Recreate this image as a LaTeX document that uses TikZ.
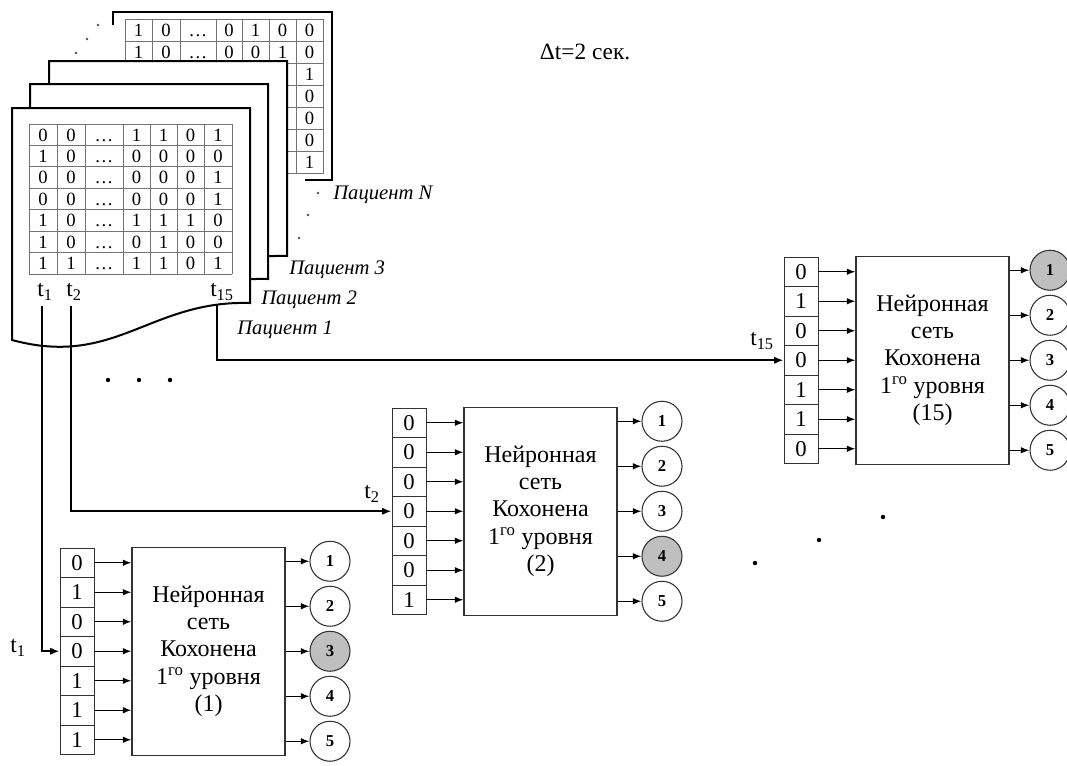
\documentclass[tikz,border=0pt]{standalone}
\usepackage{fontspec}
\setmainfont{Liberation Serif}
\usetikzlibrary{arrows.meta,positioning}
\tikzset{
  sheet/.style={draw, line width=1.5pt, fill=white},
  grid/.style={draw=black!55, line width=0.6pt},
  tabdigit/.style={font=\fontsize{14}{16}\selectfont, inner sep=0pt, text height=9.5pt, text depth=0pt},
  cell/.style={draw=black!80, line width=0.7pt, minimum width=25.5pt, minimum height=22.1pt, inner sep=0pt, font=\fontsize{17}{19}\selectfont},
  netbox/.style={draw=black!80, line width=0.8pt, minimum width=114.75pt, minimum height=156pt, align=center, font=\fontsize{18}{20.5}\selectfont},
  outcirc/.style={draw=black!80, circle, line width=0.8pt, minimum size=30pt, inner sep=0pt, font=\bfseries\fontsize{12.5}{14}\selectfont},
  line/.style={-{Latex[length=6.5pt,width=5pt]}, line width=1.1pt},
  conn/.style={-{Latex[length=7pt,width=5.5pt]}, line width=1.5pt},
  patient/.style={font=\itshape\fontsize{15.5}{17}\selectfont, anchor=west, inner sep=0pt},
  tlabel/.style={font=\fontsize{17.5}{19}\selectfont, inner sep=1pt}
}

\begin{document}
\begin{tikzpicture}[x=0.75pt,y=-0.75pt]
  \useasboundingbox (0,0) rectangle (1067,765);

  % back sheet (patient N) with its table
  \draw[line width=1.5pt] (113,25) -- (113,12) -- (332,12) -- (332,180) -- (305,180);
  \foreach \k in {0,...,7}
    \draw[grid] (125,19+22.1*\k) -- (323,19+22.1*\k);
  \foreach \x in {125,152,180,216,242,269,296,323}
    \draw[grid] (\x,19) -- (\x,173.7);
  \foreach \row [count=\r] in {{1,0,…,0,1,0,0},{1,0,…,0,0,1,0}}
    \foreach \v [count=\c] in \row {
      \pgfmathsetmacro\cx{{138.5,166,198,229,255.5,282.5,309.5}[\c-1]}
      \node[tabdigit] (bn-\r-\c) at (\cx,7.95+22.1*\r) {\v};
    }
  \foreach \v [count=\r from 3] in {1,0,0,0,1}
    \node[tabdigit] (bn-\r-7) at (309.5,7.95+22.1*\r) {\v};

  % sheets 3, 2 and 1
  \foreach \dx/\dy in {37/-47,18/-24,0/0}
    \draw[sheet, shift={(\dx,\dy)}] (12,108) -- (250,108) -- (250,303)
      .. controls (150,300) and (115,368) .. (12,340) -- cycle;

  % table of patient 1
  \foreach \k in {0,...,7}
    \draw[grid] (29,124+21.43*\k) -- (232,124+21.43*\k);
  \foreach \x in {29,57,85,123,150,177,204,232}
    \draw[grid] (\x,124) -- (\x,274);
  \foreach \row [count=\r] in {{0,0,…,1,1,0,1},{1,0,…,0,0,0,0},{0,0,…,0,0,0,1},
      {0,0,…,0,0,0,1},{1,0,…,1,1,1,0},{1,0,…,0,1,0,0},{1,1,…,1,1,0,1}}
    \foreach \v [count=\c] in \row {
      \pgfmathsetmacro\cx{{43,71,104,136.5,163.5,190.5,218}[\c-1]}
      \node[tabdigit] (fn-\r-\c) at (\cx,113.3+21.43*\r) {\v};
    }
  \node[tlabel] (s-t1) at (45,292) {t\textsubscript{1}};
  \node[tlabel] (s-t2) at (74,292) {t\textsubscript{2}};
  \node[tlabel] (s-t15) at (222,292) {t\textsubscript{15}};

  % patient labels
  \node[patient] (pN) at (333,195) {Пациент N};
  \node[patient] (p3) at (289,270) {Пациент 3};
  \node[patient] (p2) at (261,300) {Пациент 2};
  \node[patient] (p1) at (237,330) {Пациент 1};
  \node[font=\fontsize{17.5}{20}\selectfont] (dt) at (585,52) {Δt=2 сек.};

  % ellipses
  \foreach \px/\py in {98/25,87/39,76/53,318/193,308/215,299/238}
    \fill[black!70] (\px,\py) circle (1.3);
  \foreach \px/\py in {108/380,139/380,170/380,883/517,819/540,755/563}
    \fill (\px,\py) circle (2.2);

  % network (1)
  \foreach \b [count=\i] in {0,1,0,0,1,1,1}
    \node[cell] (A-in\i) at (77,533.25+29.5*\i) {\b};
  \node[netbox] (A-box) at (208.5,651.25) {Нейронная\\сеть\\Кохонена\\1\textsuperscript{го} уровня\\(1)};
  \foreach \i in {1,...,7}
    \draw[line] (A-in\i.east) -- (A-in\i.east -| A-box.west);
  \foreach \f [count=\j] in {white,white,black!25,white,white}
    \node[outcirc, fill=\f] (A-out\j) at (330,516.25+45*\j) {\j};
  \foreach \j in {1,...,5}
    \draw[line] (A-box.east |- A-out\j) -- (A-out\j.west);

  % network (2)
  \foreach \b [count=\i] in {0,0,0,0,0,0,1}
    \node[cell] (B-in\i) at (409,393.25+29.5*\i) {\b};
  \node[netbox] (B-box) at (540.5,511.25) {Нейронная\\сеть\\Кохонена\\1\textsuperscript{го} уровня\\(2)};
  \foreach \i in {1,...,7}
    \draw[line] (B-in\i.east) -- (B-in\i.east -| B-box.west);
  \foreach \f [count=\j] in {white,white,white,black!25,white}
    \node[outcirc, fill=\f] (B-out\j) at (662,376.25+45*\j) {\j};
  \foreach \j in {1,...,5}
    \draw[line] (B-box.east |- B-out\j) -- (B-out\j.west);

  % network (15)
  \foreach \b [count=\i] in {0,1,0,0,1,1,0}
    \node[cell] (C-in\i) at (801,242.25+29.5*\i) {\b};
  \node[netbox] (C-box) at (932.5,360.25) {Нейронная\\сеть\\Кохонена\\1\textsuperscript{го} уровня\\(15)};
  \foreach \i in {1,...,7}
    \draw[line] (C-in\i.east) -- (C-in\i.east -| C-box.west);
  \foreach \f [count=\j] in {black!25,white,white,white,white}
    \node[outcirc, fill=\f] (C-out\j) at (1050,225.25+45*\j) {\j};
  \foreach \j in {1,...,5}
    \draw[line] (C-box.east |- C-out\j) -- (C-out\j.west);

  % time slices to the networks
  \coordinate (t1src) at (42,306);
  \coordinate (t2src) at (71,306);
  \coordinate (t15src) at (217,305);
  \draw[conn] (t1src) |- (A-in4.west);
  \draw[conn] (t2src) |- (B-in4.west);
  \draw[conn] (t15src) |- (C-in4.west);
  \node[tlabel] (l-t1) at (18,648) {t\textsubscript{1}};
  \node[tlabel] (l-t2) at (372,494) {t\textsubscript{2}};
  \node[tlabel] (l-t15) at (762,341) {t\textsubscript{15}};
\end{tikzpicture}
\end{document}
